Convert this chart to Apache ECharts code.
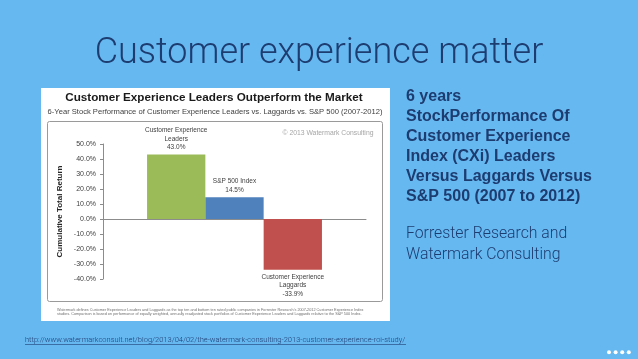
<!DOCTYPE html>
<html>
<head>
<meta charset="utf-8">
<script src="https://cdn.jsdelivr.net/npm/echarts@6/dist/echarts.min.js"></script>
<style>
html,body{margin:0;padding:0;background:#66b8f1;}
#c{width:638px;height:359px;}
</style>
</head>
<body>
<div id="c"></div>
<script>
// ---- data ----
const categories = [''];
const seriesNames = ['Customer Experience\nLeaders', 'S&P 500 Index', 'Customer Experience\nLaggards'];
const seriesValues = [43.0, 14.5, -33.9];
const yMin = -40, yMax = 50, yInterval = 10;

const slideTitle = 'Customer experience matter';
const chartTitle = 'Customer Experience Leaders Outperform the Market';
const chartSubtitle = '6-Year Stock Performance of Customer Experience Leaders vs. Laggards vs. S&P 500 (2007-2012)';
const yAxisName = 'Cumulative Total Return';
const copyrightText = '\u00a9 2013 Watermark Consulting';
const footnoteLines = [
  'Watermark defines Customer Experience Leaders and Laggards as the top ten and bottom ten rated public companies in Forrester Research\u2019s 2007-2012 Customer Experience Index',
  'studies. Comparison is based on performance of equally weighted, annually readjusted stock portfolios of Customer Experience Leaders and Laggards relative to the S&P 500 Index.'
];
const sideBoldLines = ['6 years', 'StockPerformance Of', 'Customer Experience', 'Index (CXi) Leaders', 'Versus Laggards Versus', 'S&P 500 (2007 to 2012)'];
const sideRegularLines = ['Forrester Research and', 'Watermark Consulting'];
const sourceUrl = 'http://www.watermarkconsult.net/blog/2013/04/02/the-watermark-consulting-2013-customer-experience-roi-study/';

// ---- styles ----
const barColors = ['#9bbb59', '#4f81bd', '#c0504d'];
const navy = '#1d3c70';
const chartFont = 'Liberation Sans';
const slideFont = 'Roboto, Liberation Sans';

const chart = echarts.init(document.getElementById('c'), null, {renderer: 'canvas'});

const series = seriesNames.map((name, i) => ({
  name: name,
  type: 'bar',
  data: [seriesValues[i]],
  barGap: '0%',
  barCategoryGap: '33.5%',
  itemStyle: {color: barColors[i]},
  label: {
    show: true,
    position: seriesValues[i] >= 0 ? 'top' : 'bottom',
    distance: 3,
    fontFamily: chartFont,
    fontSize: 6.5,
    lineHeight: 8.5,
    color: '#404040',
    formatter: p => p.seriesName + '\n' + p.value.toFixed(1) + '%'
  },
  z: 3
}));

chart.setOption({
  backgroundColor: '#66b8f1',
  animation: false,
  grid: {left: 103, right: 272, top: 144, bottom: 80, containLabel: false},
  xAxis: {
    type: 'category',
    data: categories,
    axisLine: {show: true, onZero: true, lineStyle: {color: '#8c8c8c', width: 1}},
    axisTick: {show: false},
    axisLabel: {show: false},
    splitLine: {show: false}
  },
  yAxis: {
    type: 'value',
    min: yMin, max: yMax, interval: yInterval,
    name: yAxisName,
    nameLocation: 'middle',
    nameGap: 39,
    nameRotate: 90,
    nameTextStyle: {fontFamily: chartFont, fontWeight: 'bold', fontSize: 8, color: '#262626'},
    axisLine: {show: true, lineStyle: {color: '#8c8c8c', width: 1}},
    axisTick: {show: true, length: 3, lineStyle: {color: '#8c8c8c'}},
    axisLabel: {fontFamily: chartFont, fontSize: 7, color: '#404040', margin: 7,
      formatter: v => v.toFixed(1) + '%'},
    splitLine: {show: false}
  },
  series: series,
  graphic: [
    {type: 'rect', z: -10, shape: {x: 41, y: 88, width: 349, height: 233}, style: {fill: '#ffffff'}},
    {type: 'rect', z: -9, shape: {x: 47.5, y: 121.5, width: 335, height: 180, r: 2}, style: {fill: 'none', stroke: '#9a9a9a', lineWidth: 1}},
    {type: 'text', z: 10, x: 319, y: 54, style: {text: slideTitle, fontFamily: slideFont, fontWeight: 300, fontSize: 36, fill: navy, align: 'center', verticalAlign: 'middle'}},
    {type: 'text', z: 10, x: 214, y: 97.5, style: {text: chartTitle, fontFamily: chartFont, fontWeight: 'bold', fontSize: 11.7, fill: '#1a1a1a', align: 'center', verticalAlign: 'middle'}},
    {type: 'text', z: 10, x: 215, y: 112, style: {text: chartSubtitle, fontFamily: chartFont, fontSize: 7.6, fill: '#404040', align: 'center', verticalAlign: 'middle'}},
    {type: 'text', z: 10, x: 328, y: 133, style: {text: copyrightText, fontFamily: chartFont, fontSize: 6.8, fill: '#a6a6a6', align: 'center', verticalAlign: 'middle'}},
    {type: 'text', z: 10, x: 57, y: 309.5, style: {text: footnoteLines[0], fontFamily: chartFont, fontSize: 3.8, fill: '#707070', align: 'left', verticalAlign: 'middle'}},
    {type: 'text', z: 10, x: 57, y: 313.5, style: {text: footnoteLines[1], fontFamily: chartFont, fontSize: 3.8, fill: '#707070', align: 'left', verticalAlign: 'middle'}},
    {type: 'text', z: 10, x: 406, y: 87, style: {text: sideBoldLines.join('\n'), fontFamily: 'Liberation Sans', fontWeight: 'bold', fontSize: 16, lineHeight: 20, fill: navy, align: 'left', verticalAlign: 'top'}},
    {type: 'text', z: 10, x: 406, y: 224, style: {text: sideRegularLines.join('\n'), fontFamily: slideFont, fontWeight: 300, fontSize: 15.8, lineHeight: 20.7, fill: navy, align: 'left', verticalAlign: 'top'}},
    {type: 'text', z: 10, x: 25, y: 340.5, style: {text: sourceUrl, fontFamily: slideFont, fontWeight: 300, fontSize: 7.5, fill: navy, align: 'left', verticalAlign: 'middle'}},
    {type: 'line', z: 10, shape: {x1: 25, y1: 344.5, x2: 406, y2: 344.5}, style: {stroke: navy, lineWidth: 0.6}},
    {type: 'circle', z: 10, shape: {cx: 609, cy: 352.3, r: 2}, style: {fill: '#ffffff'}},
    {type: 'circle', z: 10, shape: {cx: 615.6, cy: 352.3, r: 2}, style: {fill: '#ffffff'}},
    {type: 'circle', z: 10, shape: {cx: 622.2, cy: 352.3, r: 2}, style: {fill: '#ffffff'}},
    {type: 'circle', z: 10, shape: {cx: 628.8, cy: 352.3, r: 2}, style: {fill: '#ffffff'}}
  ]
});
</script>
</body>
</html>
